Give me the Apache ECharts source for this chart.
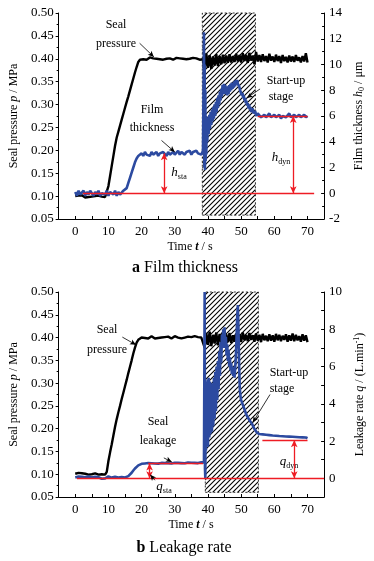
<!DOCTYPE html>
<html><head><meta charset="utf-8">
<script src="https://cdn.jsdelivr.net/npm/echarts@6/dist/echarts.min.js"></script>
<style>html,body{margin:0;padding:0;background:#fff}#c{width:374px;height:561px}</style>
</head><body><div id="c"></div>
<script>
// ---------- DATA (time step 0.5 s inside each segment, segment start times given) ----------
const xTicks = [0, 10, 20, 30, 40, 50, 60, 70];
const leftTicks = [0.05, 0.10, 0.15, 0.20, 0.25, 0.30, 0.35, 0.40, 0.45, 0.50];
const filmTicks = [-2, 0, 2, 4, 6, 8, 10, 12, 14];
const leakTicks = [0, 2, 4, 6, 8, 10];

// (a) seal pressure, MPa
const pressA_idle = [0.100,0.097,0.101,0.098,0.102,0.099,0.097,0.100,0.098,0.101,0.099,0.096,0.100,0.098,0.101,0.097,0.099,0.100,0.098,0.101]; // t 0..9.5
const pressA_ramp = [0.122,0.144,0.166,0.188,0.210,0.228,0.241,0.254,0.267,0.280,0.293,0.306,0.318,0.331,0.344,0.357,0.370,0.382,0.393,0.398]; // t 10..19.5
const pressA_hold = [0.401,0.399,0.402,0.398,0.400,0.403,0.399,0.401,0.397,0.400,0.402,0.399,0.401,0.398,0.402,0.400,0.399,0.401,0.403,0.398,0.400,0.402,0.399,0.401,0.398,0.400,0.403,0.399,0.401,0.400,0.398,0.402,0.399,0.401,0.400,0.398,0.401,0.399]; // t 20..38.5
const pressA_run = [0.372,0.412,0.380,0.408,0.378,0.405,0.385,0.410,0.384,0.406,0.388,0.409,0.390,0.407,0.391,0.410,0.392,0.406,0.393,0.411,0.394,0.408,0.392,0.412,0.395,0.409,0.391,0.413,0.396,0.407,0.388,0.415,0.394,0.408,0.393,0.410,0.395,0.406,0.392,0.411,0.396,0.405,0.393,0.409,0.395,0.406,0.391,0.408,0.395,0.404,0.392,0.407,0.394,0.405,0.393,0.408,0.396,0.403,0.392,0.406,0.394,0.412,0.392]; // t 39..70

// (a) film thickness, um
const filmA_idle = [0.1,-0.2,0.2,-0.1,0.0,0.2,-0.2,0.1,-0.1,0.2,0.0,-0.2,0.1,-0.1,0.2,-0.2,0.0,0.1,-0.1,0.2,-0.2,0.1,0.0,-0.1,0.2,-0.2,0.1,-0.1,0.0,0.2]; // t 0..14.5
const filmA_rise = [0.2,0.4,0.8,1.2,1.6,2.0,2.4,2.7,2.9,3.0]; // t 15..19.5
const filmA_hold = [3.1,2.9,3.2,3.0,3.1,2.9,3.2,3.0,3.1,3.2,2.9,3.1,3.0,3.2,3.1,2.9,3.2,3.0,3.1,3.2,3.0,3.1,3.3,3.0,3.2,3.1,3.0,3.2,3.1,3.3,3.0,3.2,3.1,3.3,3.1,3.2,3.0,3.3]; // t 20..38.5
const filmA_startT = [38.7,38.8,38.9,39.0,39.1,39.2,39.3,39.4,39.5,39.6,39.8,40.0,40.2,40.4,40.6,40.8,41.0,41.2,41.4,41.6,41.8,42.0,42.2,42.4,42.6,42.8,43.0,43.2,43.4,43.6,43.8,44.0,44.2,44.4,44.6,44.8,45.0,45.2,45.4,45.6,45.8,46.0,46.2,46.4,46.6,46.8,47.0,47.2,47.4,47.6,47.8,48.0,48.2,48.4,48.6,48.8,49.0,49.2,49.4,49.6,49.8,50.0,50.2,50.4,50.6,50.8,51.0,51.2,51.4,51.6,51.8,52.0,52.2,52.4,52.6,52.8,53.0,53.4,53.8,54.2,54.6,55.0];
const filmA_startV = [3.2,12.5,2.0,10.0,1.8,8.0,2.5,6.0,3.0,5.8,4.0,5.9,4.6,6.1,5.0,6.3,5.3,6.5,5.6,6.7,5.8,6.9,6.0,7.1,6.3,7.4,6.6,7.6,6.9,7.9,7.2,8.1,7.5,8.4,7.7,8.5,7.8,8.4,7.7,8.3,7.6,8.2,7.7,8.4,7.9,8.5,8.0,8.6,8.1,8.6,8.2,8.7,8.3,8.8,8.5,8.8,8.5,8.6,8.3,8.4,7.9,8.0,7.6,7.8,7.4,7.6,7.2,7.4,7.0,7.2,6.8,7.0,6.6,6.9,6.5,6.7,6.3,6.6,6.2,6.4,6.0,6.2];
const filmA_post = [6.1,5.9,6.0,6.1,5.9,6.0,6.2,5.9,6.0,6.1,5.9,6.0,6.1,5.8,6.0,6.1,5.9,6.0,6.2,5.9,6.0,6.1,5.9,6.0,6.1,5.9,6.0,6.1,5.9,6.0]; // t 55.5..70

// (b) seal pressure, MPa
const pressB_idle = [0.101,0.099,0.103,0.100,0.102,0.098,0.101,0.103,0.099,0.102,0.100,0.098,0.102,0.101,0.099,0.103,0.100,0.102,0.099]; // t 0..9
const pressB_ramp = [0.105,0.129,0.148,0.166,0.185,0.204,0.221,0.236,0.250,0.265,0.279,0.293,0.307,0.322,0.336,0.350,0.365,0.378,0.389,0.395,0.398]; // t 9.5..19.5
const pressB_hold = [0.400,0.402,0.399,0.401,0.398,0.401,0.403,0.400,0.398,0.401,0.399,0.402,0.400,0.397,0.401,0.399,0.402,0.400,0.398,0.401,0.403,0.399,0.400,0.402,0.398,0.401,0.400,0.399,0.402,0.398,0.401,0.400,0.403,0.399,0.401,0.398,0.400,0.402]; // t 20..38.5
const pressB_run = [0.378,0.410,0.384,0.413,0.381,0.406,0.387,0.411,0.383,0.408,0.389,0.412,0.386,0.407,0.390,0.410,0.388,0.405,0.391,0.409,0.393,0.407,0.390,0.411,0.394,0.406,0.392,0.410,0.395,0.405,0.391,0.409,0.393,0.406,0.390,0.408,0.394,0.404,0.392,0.407,0.393,0.405,0.391,0.408,0.394,0.406,0.392,0.404,0.395,0.407,0.391,0.405,0.393,0.409,0.392,0.406,0.394,0.403,0.391,0.407,0.393,0.405,0.390]; // t 39..70

// (b) leakage rate, L/min
const leakB_idle = [0.05,0.0,0.1,0.0,0.08,-0.02,0.06,0.0,0.1,0.02,0.05,-0.03,0.08,0.0,0.06,0.03,-0.02,0.07,0.0,0.05,0.1,0.0,0.04,-0.02,0.08,0.02,0.05,0.0,0.07,0.03,0.05]; // t 0..15
const leakB_rise = [0.08,0.12,0.2,0.3,0.42,0.53,0.63,0.7,0.75,0.78,0.8]; // t 15.5..20.5
const leakB_hold = [0.80,0.78,0.82,0.79,0.81,0.83,0.80,0.82,0.79,0.81,0.83,0.80,0.82,0.84,0.81,0.83,0.80,0.82,0.84,0.81,0.83,0.85,0.82,0.84,0.81,0.83,0.85,0.82,0.84,0.86,0.83,0.85,0.82,0.84,0.86,0.84]; // t 21..38.5
const leakB_startT = [38.8,39.0,39.1,39.2,39.3,39.4,39.5,39.6,39.7,39.8,39.9,40.0,40.2,40.4,40.6,40.8,41.0,41.2,41.4,41.6,41.8,42.0,42.2,42.4,42.6,42.8,43.0,43.2,43.4,43.6,43.8,44.0,44.2,44.4,44.6,44.8,45.0,45.2,45.4,45.6,45.8,46.0,46.2,46.4,46.6,46.8,47.0,47.2,47.4,47.6,47.8,48.0,48.2,48.4,48.6,48.8,49.0,49.2,49.4,49.6,49.8,50.0,50.4,50.8,51.2,51.6,52.0,52.4,52.8,53.2,53.6,54.0,54.4,54.8,55.2];
const leakB_startV = [0.85,10.0,0.5,0.0,4.0,1.5,5.0,1.8,5.2,2.0,5.3,1.7,5.4,2.2,5.2,2.4,5.0,2.5,5.1,2.8,5.4,3.2,5.7,3.6,6.0,4.2,6.3,4.8,6.8,5.5,7.3,6.2,7.7,7.0,8.0,7.5,8.1,7.0,7.6,6.6,7.2,6.3,6.9,6.0,6.5,5.8,6.2,5.6,6.0,5.5,5.8,5.4,5.9,6.5,7.5,8.6,9.3,8.0,6.0,4.8,4.4,4.2,4.0,3.8,3.6,3.4,3.3,3.15,3.05,2.95,2.8,2.65,2.55,2.45,2.4];
const leakB_post = [2.38,2.33,2.36,2.31,2.34,2.29,2.32,2.28,2.30,2.26,2.29,2.25,2.27,2.23,2.26,2.22,2.25,2.21,2.24,2.20,2.23,2.19,2.22,2.18,2.21,2.17,2.20,2.16,2.19,2.15]; // t 55.5..70

// start-up (hatched) windows [t0, t1, yBottom(right axis), yTop(right axis)]
const startupA = [38.3, 54.3, -1.7, 14];
const startupB = [39.2, 55.2, -0.75, 10];
// reference (red) lines: [t0, y0, t1, y1, arrows]
const refA = [[2.3,0,72,0,false],[55,6,70,6,false],[26.8,0,26.8,3.1,true],[65.7,6,65.7,0,true]];
const refB = [[0.5,0,75,0,false],[22,0.82,38.5,0.82,false],[22.4,0,22.4,0.8,true],[56.4,2.05,70,2.05,false],[66,0,66,2.05,true]];
// pointer arrows [t0,y0,t1,y1,axis('L'|'R')]
const ptrA = [[19.4,0.434,23.7,0.404,'L'],[26,4.1,30,3.2,'R'],[55.7,8.1,51.7,7.4,'R']];
const ptrB = [[14.2,0.401,18.3,0.384,'L'],[26.7,1.1,29.1,0.88,'R'],[58.7,4.5,53.5,3.0,'R'],[24.0,-0.1,22.6,0.2,'R']];

// ---------- BUILD ----------
function seg(arr, t0) { return arr.map((v, i) => [t0 + i * 0.5, v]); }
function pairs(T, V) { return T.map((t, i) => [t, V[i]]); }
const pressA = [].concat(seg(pressA_idle,0), seg(pressA_ramp,10), seg(pressA_hold,20), seg(pressA_run,39));
const filmA = [].concat(seg(filmA_idle,0), seg(filmA_rise,15), seg(filmA_hold,20), pairs(filmA_startT, filmA_startV), seg(filmA_post,55.5));
const pressB = [].concat(seg(pressB_idle,0), seg(pressB_ramp,9.5), seg(pressB_hold,20), seg(pressB_run,39));
const leakB = [].concat(seg(leakB_idle,0), seg(leakB_rise,15.5), seg(leakB_hold,21), pairs(leakB_startT, leakB_startV), seg(leakB_post,55.5));

const F = 'Liberation Serif';
const BLUE = '#2c4aa0', RED = '#ee1c24';

const hc = document.createElement('canvas'); hc.width = 5; hc.height = 5;
const hx = hc.getContext('2d'); hx.strokeStyle = '#000'; hx.lineWidth = 1.1;
hx.beginPath(); hx.moveTo(-1,6); hx.lineTo(6,-1); hx.moveTo(-1,1); hx.lineTo(1,-1); hx.moveTo(4,6); hx.lineTo(6,4); hx.stroke();
const hatch = { image: hc, repeat: 'repeat' };

function xAx(g) {
  return { type:'value', gridIndex:g, min:-5, max:75, interval:5,
    axisLine:{onZero:false, lineStyle:{color:'#000', width:1}},
    axisTick:{inside:true, length:3, lineStyle:{color:'#000'}},
    axisLabel:{interval:0, color:'#000', fontFamily:F, fontSize:13, margin:6,
      formatter: v => xTicks.indexOf(v) >= 0 ? String(v) : ''},
    splitLine:{show:false} };
}
const rich = {
  n:{fontFamily:F, fontSize:12, color:'#000'},
  i:{fontFamily:F, fontSize:12, color:'#000', fontStyle:'italic'},
  s:{fontFamily:F, fontSize:8, color:'#000', verticalAlign:'bottom', padding:[6,0,0,0]},
  p:{fontFamily:F, fontSize:8, color:'#000', verticalAlign:'top', padding:[0,0,6,0]}
};
function yLeft(g) {
  return { type:'value', gridIndex:g, position:'left', min:0.05, max:0.5, interval:0.05,
    axisLine:{show:true, onZero:false, lineStyle:{color:'#000'}},
    axisTick:{show:true, length:3, lineStyle:{color:'#000'}},
    minorTick:{show:true, splitNumber:2, length:2, lineStyle:{color:'#000'}},
    axisLabel:{color:'#000', fontFamily:F, fontSize:13, margin:5, formatter: v => v.toFixed(2)},
    splitLine:{show:false},
    name:'{n|Seal pressure }{i|p}{n| / MPa}', nameLocation:'middle', nameRotate:90, nameGap:30,
    nameTextStyle:{rich: rich} };
}
function yRight(g, min, max, ticks, name) {
  return { type:'value', gridIndex:g, position:'right', min:min, max:max, interval: (max - min) % 2 === 0 ? 2 : 1,
    axisLine:{show:true, onZero:false, lineStyle:{color:'#000'}},
    axisTick:{show:true, inside:true, length:3, lineStyle:{color:'#000'}},
    minorTick:{show:(max - min) % 2 === 0, splitNumber:2, length:2, lineStyle:{color:'#000'}},
    axisLabel:{color:'#000', fontFamily:F, fontSize:13, margin:5, formatter: v => ticks.indexOf(v) >= 0 ? String(v) : ''},
    splitLine:{show:false},
    name:name, nameLocation:'middle', nameRotate:90, nameGap:21,
    nameTextStyle:{rich: rich} };
}
function refSeries(xi, yi, list) {
  return { type:'line', xAxisIndex:xi, yAxisIndex:yi, data:[], z:6, silent:true,
    markLine:{ silent:true, animation:false, symbol:['none','none'], label:{show:false},
      lineStyle:{color:RED, width:1.3, type:'solid'},
      data: list.map(r => [
        {coord:[r[0], r[1]], symbol: r[4] ? 'arrow' : 'none', symbolSize:[5,7]},
        {coord:[r[2], r[3]], symbol: r[4] ? 'arrow' : 'none', symbolSize:[5,7]}]) } };
}
function ptrSeries(xi, yi, list, side) {
  return { type:'line', xAxisIndex:xi, yAxisIndex:yi, data:[], z:7, silent:true,
    markLine:{ silent:true, animation:false, symbol:['none','arrow'], symbolSize:[4,6], label:{show:false},
      lineStyle:{color:'#000', width:0.8, type:'solid'},
      data: list.filter(r => r[4] === side).map(r => [{coord:[r[0], r[1]]},{coord:[r[2], r[3]]}]) } };
}
function hatchSeries(xi, yi, w) {
  return { type:'line', xAxisIndex:xi, yAxisIndex:yi, data:[], z:1, silent:true,
    markArea:{ silent:true, animation:false, label:{show:false},
      itemStyle:{color:hatch, borderColor:'#000', borderWidth:0.8, borderType:[2,2]},
      data:[[{coord:[w[0], w[2]]},{coord:[w[1], w[3]]}]] } };
}
function lineS(xi, yi, data, color, w, z) {
  return { type:'line', xAxisIndex:xi, yAxisIndex:yi, data:data, showSymbol:false, symbol:'none',
    lineStyle:{color:color, width:w}, z:z, silent:true, animation:false };
}
function txt(x, y, text, size, extra) {
  return Object.assign({ type:'text', x:x, y:y, silent:true,
    style:{ text:text, fontFamily:F, fontSize:size || 12, fill:'#000', align:'center', verticalAlign:'middle', rich:{
      i:{fontFamily:F, fontSize:size || 12, fontStyle:'italic', fill:'#000'},
      bi:{fontFamily:F, fontSize:size || 12, fontStyle:'italic', fontWeight:'bold', fill:'#000'},
      b:{fontFamily:F, fontSize:size || 12, fontWeight:'bold', fill:'#000'},
      s:{fontFamily:F, fontSize:8, fill:'#000', verticalAlign:'bottom', padding:[7,0,0,0]},
      n:{fontFamily:F, fontSize:size || 12, fill:'#000'}
    }}}, extra || {});
}

const chart = echarts.init(document.getElementById('c'), null, {renderer:'canvas'});
chart.setOption({
  animation:false,
  backgroundColor:'#fff',
  grid:[{left:54, right:40, top:13, height:206}, {left:58, right:40, top:292, height:205}],
  xAxis:[xAx(0), xAx(1)],
  yAxis:[yLeft(0),
         yRight(0, -2, 14, filmTicks, '{n|Film thickness }{i|h}{s|0}{n| / μm}'),
         yLeft(1),
         yRight(1, -1, 10, leakTicks, '{n|Leakage rate }{i|q}{n| / (L.min}{p|-1}{n|)}')],
  series:[
    hatchSeries(0, 1, startupA),
    lineS(0, 0, pressA, '#000', 2.4, 3),
    lineS(0, 1, filmA, BLUE, 2.6, 4),
    refSeries(0, 1, refA),
    ptrSeries(0, 0, ptrA, 'L'),
    ptrSeries(0, 1, ptrA, 'R'),
    hatchSeries(1, 3, startupB),
    lineS(1, 2, pressB, '#000', 2.4, 3),
    lineS(1, 3, leakB, BLUE, 2.6, 4),
    refSeries(1, 3, refB),
    ptrSeries(1, 2, ptrB, 'L'),
    ptrSeries(1, 3, ptrB, 'R')
  ],
  graphic:[
    txt(116, 25, 'Seal'), txt(116, 44, 'pressure'),
    txt(152, 110, 'Film'), txt(152, 128, 'thickness'),
    txt(286, 81, 'Start-up'), txt(281, 97, 'stage'),
    txt(179, 173, '{i|h}{s|sta}', 13), txt(281, 158, '{i|h}{s|dyn}', 13),
    txt(190, 247, '{n|Time }{bi|t}{n| / s}', 12),
    txt(185, 268, '{b|a} {n|Film thickness}', 16),
    txt(107, 330, 'Seal'), txt(107, 350, 'pressure'),
    txt(158, 422, 'Seal'), txt(158, 441, 'leakage'),
    txt(289, 373, 'Start-up'), txt(282, 389, 'stage'),
    txt(164, 487, '{i|q}{s|sta}', 13), txt(289, 462, '{i|q}{s|dyn}', 13),
    txt(191, 525, '{n|Time }{bi|t}{n| / s}', 12),
    txt(184, 548, '{b|b} {n|Leakage rate}', 16)
  ]
});
</script></body></html>
